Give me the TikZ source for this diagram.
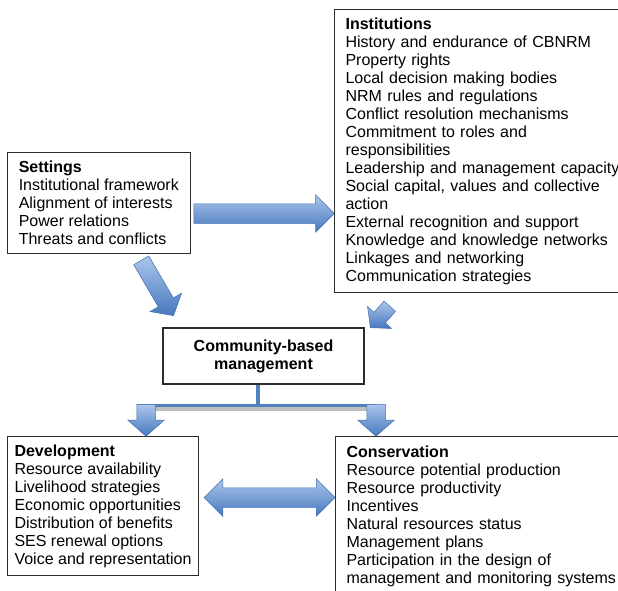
\documentclass[tikz,border=0pt]{standalone}
\usepackage{fontspec}
\setmainfont{Liberation Sans}
\usetikzlibrary{calc,shapes.arrows}

\definecolor{arrowlight}{RGB}{172,198,235}
\definecolor{arrowdark}{RGB}{70,120,190}
\definecolor{arrowedge}{RGB}{66,110,176}
\definecolor{barblue}{RGB}{79,129,189}
\definecolor{barshade}{RGB}{190,190,190}
\definecolor{boxline}{RGB}{45,45,45}

\tikzset{
  box/.style={draw=boxline, line width=1.1pt, align=left, anchor=north west,
    font=\fontsize{16}{18}\selectfont, inner xsep=11pt},
  fatarrow/.style={draw=arrowedge, line width=0.5pt, top color=arrowlight,
    bottom color=arrowdark, inner xsep=0pt, minimum width=1pt},
  blockto/.style={to path={let \p1=(\tikztostart), \p2=(\tikztotarget),
      \n1={veclen(\x2-\x1,\y2-\y1)} in
      (\p1) -- node[fatarrow, sloped, allow upside down, minimum height=\n1, #1] {} (\p2)}},
  connector/.style={draw=barblue, line width=3.5pt},
}

\begin{document}
\begin{tikzpicture}[x=1pt, y=-1pt]
    \useasboundingbox (0,0) rectangle (618,590);

    % Draw the boxes
    \node[box, minimum width=182.5pt, minimum height=101pt] (settings) at (7,152)
        {\textbf{Settings}\\Institutional framework\\Alignment of interests\\Power relations\\Threats and conflicts};
    \node[box, text width=280pt, minimum height=283pt] (institutions) at (334,9)
        {\textbf{Institutions}\\History and endurance of CBNRM\\Property rights\\Local decision making bodies\\NRM rules and regulations\\Conflict resolution mechanisms\\Commitment to roles and\\responsibilities\\Leadership and management capacity\\Social capital, values and collective\\action\\External recognition and support\\Knowledge and knowledge networks\\Linkages and networking\\Communication strategies};
    \node[box, anchor=center, align=center, font=\fontsize{16}{18}\selectfont\bfseries,
        minimum width=201pt, minimum height=56pt] (cbm) at (263.5,356)
        {Community-based\\management};
    \node[box, inner xsep=6.5pt, minimum width=191pt, minimum height=139pt] (development) at (7,436)
        {\textbf{Development}\\Resource availability\\Livelihood strategies\\Economic opportunities\\Distribution of benefits\\SES renewal options\\Voice and representation};
    \node[box, text width=280pt, inner ysep=9pt] (conservation) at (335,436)
        {\textbf{Conservation}\\Resource potential production\\Resource productivity\\Incentives\\Natural resources status\\Management plans\\Participation in the design of\\management and monitoring systems};

    % Arrow ends
    \coordinate (s1) at ([xshift=3pt,yshift=-10.5pt]settings.east);
    \coordinate (s2) at ([xshift=-49.5pt,yshift=-6pt]settings.south east);
    \coordinate (c1) at ([xshift=11pt,yshift=12pt]cbm.north west);
    \coordinate (i1) at ([xshift=56pt,yshift=-13pt]institutions.south west);
    \coordinate (c2) at ([xshift=6pt]cbm.north east);
    \coordinate (split) at ([xshift=-5.5pt,yshift=-21pt]cbm.south);
    \coordinate (barl) at ([xshift=-112pt]split);
    \coordinate (barr) at ([xshift=118pt]split);
    \coordinate (d1) at ([xshift=5pt,yshift=8.5pt]development.east);

    % Settings and institutions arrows
    \path (s1) to[blockto={single arrow, inner ysep=9.5pt, single arrow head extend=9pt, pos=0, anchor=tail}] (s1 -| institutions.west);
    \path (s2) to[blockto={single arrow, inner ysep=8.5pt, single arrow head extend=9.5pt, single arrow tip angle=100, pos=0, anchor=tail}] (c1);
    \path (i1) to[blockto={single arrow, inner ysep=7.5pt, single arrow head extend=8.5pt, single arrow tip angle=100, pos=0, anchor=tail}] (c2);

    % Split below community-based management
    \draw[connector] ([xshift=-5.5pt]cbm.south) -- (split);
    \draw[draw=barshade, line width=4pt] ([xshift=-8pt,yshift=-3pt]barl) -- ([xshift=1pt,yshift=-3pt]barr);
    \draw[connector] ([xshift=-9pt]barl) -- (barr);
    \path ([yshift=1.5pt]barl) to[blockto={single arrow, inner ysep=9pt, single arrow head extend=9pt, single arrow tip angle=97, pos=0, anchor=tail}] (barl |- development.north);
    \path ([yshift=1.5pt]barr) to[blockto={single arrow, inner ysep=9pt, single arrow head extend=9pt, single arrow tip angle=97, pos=0, anchor=tail}] (barr |- conservation.north);

    % Development and conservation
    \path (d1) to[blockto={double arrow, inner ysep=9.5pt, double arrow head extend=9pt, pos=0.5, anchor=center}] (d1 -| conservation.west);

\end{tikzpicture}
\end{document}
